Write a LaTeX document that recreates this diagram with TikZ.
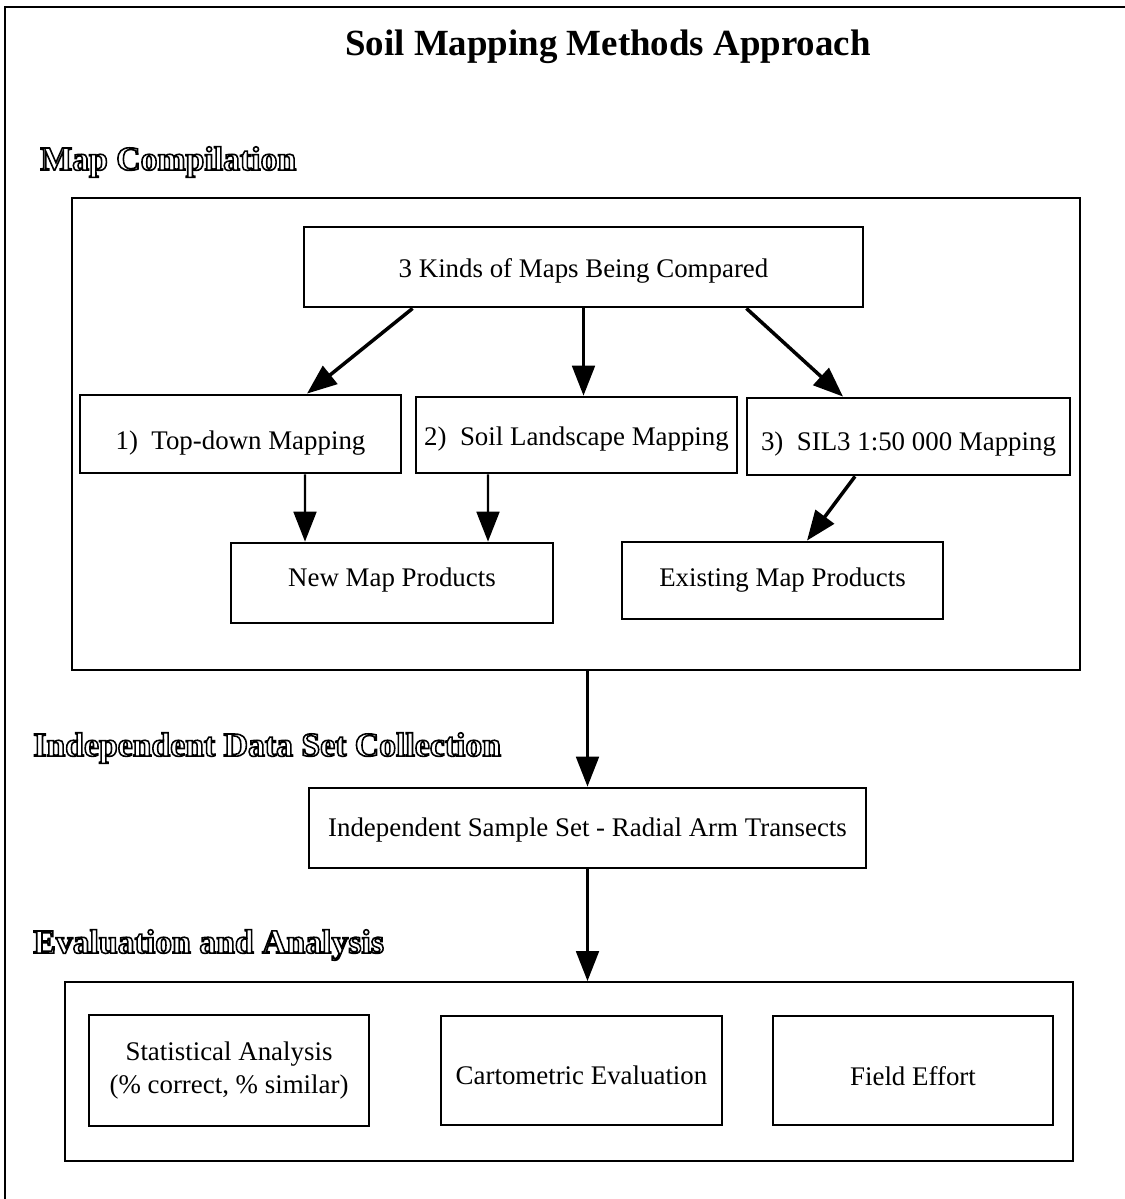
\documentclass[tikz,border=0pt]{standalone}
\usepackage{fontspec}
\setmainfont{Liberation Serif}
\usetikzlibrary{arrows.meta}
% outlined heading text, drawn with stroke only
\newcommand{\hollow}[1]{\special{pdf:literal direct 1 Tr 0.9 w}#1\special{pdf:literal direct 0 Tr}}
% lower a label inside its box, keeping the box itself in place
\newcommand{\tdown}[2]{\raisebox{-#1}[\height][\depth]{#2}}
\tikzset{
 box/.style={draw,line width=1.6pt,inner sep=0pt,align=center,font=\fontsize{15.3}{19}\selectfont},
 groupbox/.style={draw,line width=1.1pt,inner sep=0pt},
 head/.style={anchor=west,inner sep=0pt,font=\fontsize{19.2}{22}\selectfont\bfseries},
 arr/.style={line width=1.3pt,-{Triangle[length=17pt,width=13pt]}},
 thickarr/.style={arr,line width=2pt},
}
\begin{document}
\begin{tikzpicture}
\useasboundingbox (0,0) rectangle (22.5,-23.98);
%page frame
\draw[line width=1.7pt](0.1,-23.98)--(0.1,-0.14)--(22.5,-0.14);
\node[font=\fontsize{21}{24}\selectfont\bfseries](title) at (12.16,-0.94){Soil Mapping Methods Approach};
%map compilation
\node[head](hcomp) at (0.8,-3.24){\hollow{Map Compilation}};
\node[groupbox,minimum width=20.16cm,minimum height=9.44cm](comp) at (11.52,-8.68){};
\node[box,minimum width=11.18cm,minimum height=1.6cm](kinds) at (11.67,-5.34){\tdown{2.5pt}{3 Kinds of Maps Being Compared}};
\node[box,minimum width=6.42cm,minimum height=1.56cm](topdown) at (4.81,-8.68){\tdown{5pt}{1)\ \ Top-down Mapping}};
\node[box,minimum width=6.42cm,minimum height=1.52cm](soilland) at (11.53,-8.70){\tdown{2.5pt}{2)\ \ Soil Landscape Mapping}};
\node[box,minimum width=6.46cm,minimum height=1.54cm](silmap) at (18.17,-8.73){\tdown{4.5pt}{3)\ \ SIL3 1:50 000 Mapping}};
\node[box,minimum width=6.44cm,minimum height=1.6cm](newmap) at (7.84,-11.66){\tdown{-1.5pt}{New Map Products}};
\node[box,minimum width=6.42cm,minimum height=1.54cm](existmap) at (15.65,-11.61){Existing Map Products};
\draw[thickarr]([xshift=2.2cm]kinds.south west)--([xshift=1.33cm]topdown.north);
\draw[arr](kinds.south)--(kinds.south|-soilland.north);
\draw[thickarr]([xshift=-2.36cm]kinds.south east)--([xshift=-1.31cm]silmap.north);
\draw[arr]([xshift=1.29cm]topdown.south)--([xshift=-1.74cm]newmap.north);
\draw[arr]([xshift=-1.77cm]soilland.south)--([xshift=1.92cm]newmap.north);
\draw[thickarr]([xshift=-1.07cm]silmap.south)--([xshift=0.49cm]existmap.north);
%data set collection
\node[head](hdata) at (0.66,-14.96){\hollow{Independent Data Set Collection}};
\node[box,minimum width=11.14cm,minimum height=1.6cm](sample) at (11.75,-16.56){\tdown{1pt}{Independent Sample Set - Radial Arm Transects}};
\draw[arr](comp.south-|sample.north)--(sample.north);
%evaluation
\node[head](heval) at (0.66,-18.9){\hollow{Evaluation and Analysis}};
\node[groupbox,minimum width=20.16cm,minimum height=3.58cm](eval) at (11.38,-21.43){};
\node[box,minimum width=5.6cm,minimum height=2.22cm](stat) at (4.58,-21.41){Statistical Analysis\\(\% correct, \% similar)};
\node[box,minimum width=5.62cm,minimum height=2.18cm](carto) at (11.63,-21.41){\tdown{2.5pt}{Cartometric Evaluation}};
\node[box,minimum width=5.6cm,minimum height=2.18cm](field) at (18.26,-21.41){\tdown{3pt}{Field Effort}};
\draw[arr](sample.south)--(sample.south|-eval.north);
\end{tikzpicture}
\end{document}
